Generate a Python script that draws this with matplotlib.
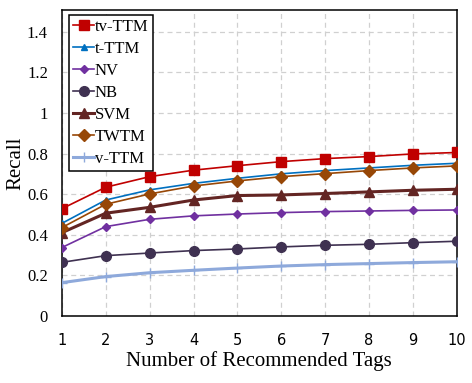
import numpy as np
import matplotlib
matplotlib.use("Agg")
import matplotlib.pyplot as plt

# recall values
n_tags = [1, 2, 3, 4, 5, 6, 7, 8, 9, 10]
tv_ttm = [0.528, 0.634, 0.686, 0.718, 0.740, 0.760, 0.775, 0.785, 0.798, 0.805]
t_ttm = [0.456, 0.571, 0.621, 0.653, 0.678, 0.700, 0.716, 0.729, 0.742, 0.752]
nv = [0.337, 0.440, 0.476, 0.493, 0.502, 0.509, 0.514, 0.517, 0.520, 0.522]
nb = [0.264, 0.297, 0.310, 0.322, 0.330, 0.340, 0.348, 0.353, 0.361, 0.368]
svm = [0.410, 0.506, 0.535, 0.571, 0.593, 0.596, 0.603, 0.611, 0.619, 0.624]
twtm = [0.435, 0.550, 0.601, 0.640, 0.665, 0.686, 0.701, 0.716, 0.729, 0.739]
v_ttm = [0.164, 0.194, 0.213, 0.225, 0.236, 0.246, 0.253, 0.258, 0.263, 0.267]
yticks = [0, 0.2, 0.4, 0.6, 0.8, 1.0, 1.2, 1.4]
ytick_labels = ["0", "0.2", "0.4", "0.6", "0.8", "1", "1.2", "1.4"]

serif = "Liberation Serif"

fig = plt.figure(figsize=(4.72, 3.83), dpi=100)
ax = fig.add_axes([0.131, 0.175, 0.837, 0.798])

ax.plot(n_tags, tv_ttm, color="#C00000", lw=1.2, marker="s", ms=6.5, label="tv-TTM", zorder=10)
ax.plot(n_tags, t_ttm, color="#0070C0", lw=1.2, marker="^", ms=5, label="t-TTM", zorder=6)
ax.plot(n_tags, nv, color="#7030A0", lw=1.2, marker="D", ms=4.5, label="NV", zorder=6)
ax.plot(n_tags, nb, color="#3F3151", lw=1.2, marker="o", ms=7, label="NB", zorder=6)
ax.plot(n_tags, svm, color="#632523", lw=2.2, marker="^", ms=7.5, label="SVM", zorder=7)
ax.plot(n_tags, twtm, color="#974706", lw=1.2, marker="D", ms=6, label="TWTM", zorder=8)
ax.plot(n_tags, v_ttm, color="#8EA9DB", lw=2.2, marker="+", ms=7, mew=1, label="v-TTM", zorder=5)

ax.set_xlim(1, 10)
ax.set_ylim(0, 1.505)
ax.set_xticks(n_tags)
ax.set_yticks(yticks)
ax.set_yticklabels(ytick_labels, fontfamily=serif, fontsize=12)
for lab in ax.get_xticklabels():
    lab.set_fontfamily("DejaVu Sans")
    lab.set_fontsize(10.5)
ax.tick_params(length=0)
ax.tick_params(axis="x", pad=12.5)
ax.tick_params(axis="y", pad=10)
ax.grid(True, color="#D0D0D0", ls=(0, (4, 3)), lw=0.9)
ax.set_axisbelow(True)
for s in ax.spines.values():
    s.set_linewidth(1.1)

ax.set_xlabel("Number of Recommended Tags", fontfamily=serif, fontsize=15, labelpad=2)
ax.set_ylabel("Recall", fontfamily=serif, fontsize=15, labelpad=1)

leg = ax.legend(loc="upper left", bbox_to_anchor=(0.018, 0.985), prop={"family": serif, "size": 12},
                fancybox=False, framealpha=1, edgecolor="black", handlelength=1.25,
                handletextpad=0.05, labelspacing=0.36, borderpad=0.25, borderaxespad=0)
leg.get_frame().set_linewidth(1.1)

fig.savefig("out.png", dpi=100)
